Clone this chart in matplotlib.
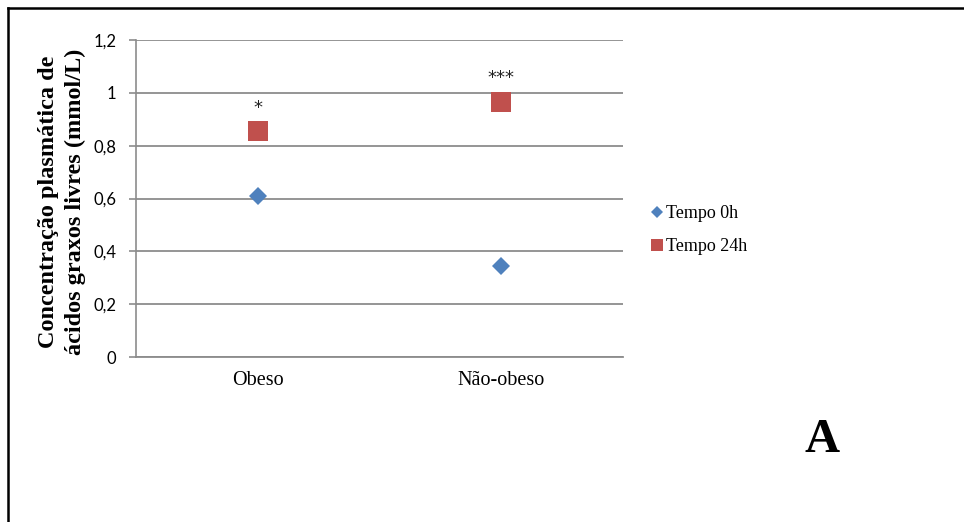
import matplotlib
matplotlib.use("Agg")
import matplotlib.pyplot as plt
from matplotlib.lines import Line2D

# Data
groups = ["Obeso", "Não-obeso"]
tempo_0h = [0.61, 0.345]
tempo_24h = [0.855, 0.965]
significance = ["*", "***"]
yticks = [0, 0.2, 0.4, 0.6, 0.8, 1.0, 1.2]
ytick_labels = ["0", "0,2", "0,4", "0,6", "0,8", "1", "1,2"]

blue = "#4F81BD"
red = "#C0504D"
grid_col = "#8C8C8C"

fig = plt.figure(figsize=(9.64, 5.22), dpi=100)
ax = fig.add_axes([136 / 964, 1 - 357 / 522, 487 / 964, 317 / 522])

x = [0.5, 1.5]
ax.plot(x, tempo_0h, linestyle="none", marker="D", markersize=9.2,
        color=blue, markeredgewidth=0, label="Tempo 0h", zorder=3)
ax.plot(x, tempo_24h, linestyle="none", marker="s", markersize=14,
        color=red, markeredgewidth=0, label="Tempo 24h", zorder=3)

for xi, yi, s in zip(x, tempo_24h, significance):
    ax.annotate(s, (xi, yi), xytext=(0, 17), textcoords="offset points",
                ha="center", va="center", fontsize=13, family="DejaVu Sans",
                color="#222222")

ax.set_xlim(0, 2)
ax.set_ylim(0, 1.2)
ax.set_xticks(x)
ax.set_xticklabels(groups, family="Liberation Serif", fontsize=14.5)
ax.set_yticks(yticks)
ax.set_yticklabels(ytick_labels, family="Lato", fontsize=12)
ax.tick_params(axis="x", length=0, pad=10)
ax.tick_params(axis="y", length=5, width=1.2, color=grid_col, pad=9)

ax.grid(axis="y", color=grid_col, linewidth=1.3)
ax.set_axisbelow(True)
for side in ["top", "right"]:
    ax.spines[side].set_visible(False)
ax.spines["left"].set_color(grid_col)
ax.spines["left"].set_linewidth(1.2)
ax.spines["bottom"].set_color(grid_col)
ax.spines["bottom"].set_linewidth(1.3)

fig.text(62 / 964, 1 - 202 / 522,
         "Concentração plasmática de\nácidos graxos livres (mmol/L)",
         rotation=90, ha="center", va="center", multialignment="center",
         family="Liberation Serif", fontweight="bold", fontsize=17.5,
         linespacing=1.3)

leg = fig.legend(loc="center left", bbox_to_anchor=(635 / 964, 1 - 230 / 522),
                 frameon=False, prop={"family": "Liberation Serif", "size": 13},
                 handlelength=0.6, handletextpad=0.2, labelspacing=0.9,
                 markerscale=0.65)

fig.text(822 / 964, 1 - 440 / 522, "A", ha="center", va="center",
         family="Liberation Serif", fontweight="bold", fontsize=35)

# Outer frame (top and left edges)
fig.add_artist(Line2D([8 / 964, 1.0], [1 - 8 / 522, 1 - 8 / 522],
                      transform=fig.transFigure, color="black", linewidth=1.8))
fig.add_artist(Line2D([8 / 964, 8 / 964], [0, 1 - 8 / 522],
                      transform=fig.transFigure, color="black", linewidth=1.8))

fig.savefig("out.png", dpi=100)
